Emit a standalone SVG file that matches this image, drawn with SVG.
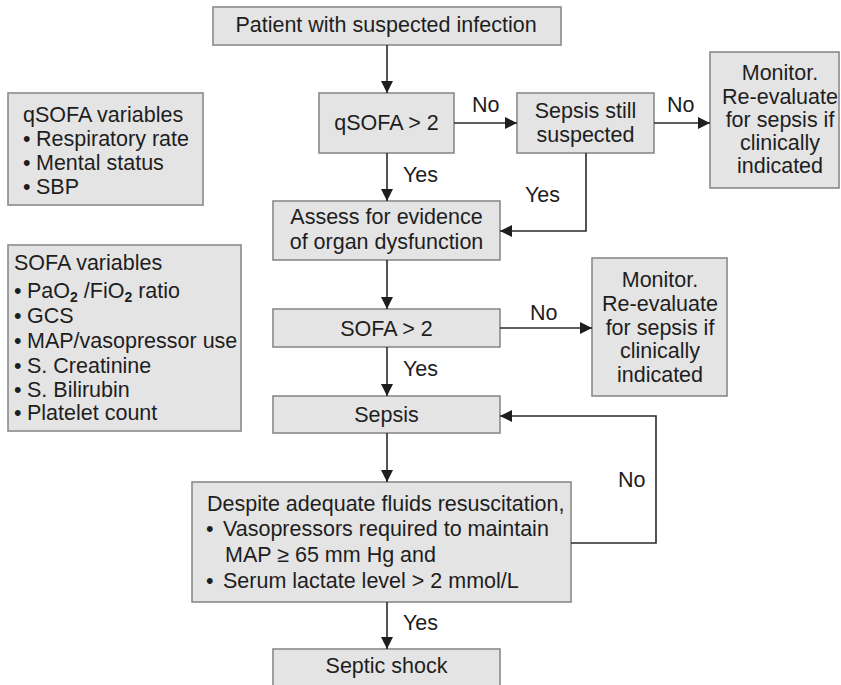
<svg xmlns="http://www.w3.org/2000/svg" width="841" height="685" viewBox="0 0 841 685">
<style>
.box{fill:#e4e4e4;stroke:#8a8a8a;stroke-width:1.6}
text{font-family:"Liberation Sans",Arial,sans-serif;font-size:21.5px;fill:#1e1e1e}
.c{text-anchor:middle}
.ln{fill:none;stroke:#2a2a2a;stroke-width:1.6}
</style>
<defs>
<marker id="ah" viewBox="0 0 12 12" refX="12" refY="6" markerWidth="12" markerHeight="12" markerUnits="userSpaceOnUse" orient="auto">
<path d="M0,0 L12,6 L0,12 Z" fill="#1e1e1e"/>
</marker>
</defs>
<rect width="841" height="685" fill="#fff"/>

<g id="start"><rect class="box" x="213" y="7" width="348" height="38"/><text class="c" x="386" y="32">Patient with suspected infection</text></g>
<g id="qsofa"><rect class="box" x="319" y="93" width="135" height="60"/><text class="c" x="386.5" y="130">qSOFA &gt; 2</text></g>
<g id="still"><rect class="box" x="517" y="93" width="137" height="60"/><text class="c" x="585.5" y="118">Sepsis still</text><text class="c" x="585.5" y="142">suspected</text></g>
<g id="monitor1"><rect class="box" x="710" y="52" width="129" height="136"/><text class="c" x="780" y="80">Monitor.</text><text class="c" x="780" y="104">Re-evaluate</text><text class="c" x="780" y="127">for sepsis if</text><text class="c" x="780" y="150">clinically</text><text class="c" x="780" y="173">indicated</text></g>
<g id="assess"><rect class="box" x="273" y="201" width="227" height="59"/><text class="c" x="386.5" y="224">Assess for evidence</text><text class="c" x="386.5" y="249">of organ dysfunction</text></g>
<g id="sofa"><rect class="box" x="273" y="309" width="227" height="38"/><text class="c" x="386.5" y="336">SOFA &gt; 2</text></g>
<g id="monitor2"><rect class="box" x="592" y="258" width="135" height="138"/><text class="c" x="660" y="287">Monitor.</text><text class="c" x="660" y="311">Re-evaluate</text><text class="c" x="660" y="335">for sepsis if</text><text class="c" x="660" y="358">clinically</text><text class="c" x="660" y="382">indicated</text></g>
<g id="sepsis"><rect class="box" x="273" y="396" width="227" height="37"/><text class="c" x="386.5" y="422">Sepsis</text></g>
<g id="criteria"><rect class="box" x="192" y="482" width="379" height="120"/>
<text x="207" y="511">Despite adequate fluids resuscitation,</text>
<text x="206" y="536">•</text><text x="223" y="536">Vasopressors required to maintain</text>
<text x="225" y="562">MAP ≥ 65 mm Hg and</text>
<text x="206" y="588">•</text><text x="223" y="588">Serum lactate level &gt; 2 mmol/L</text></g>
<g id="shock"><rect class="box" x="273" y="649" width="227" height="40"/><text class="c" x="386.5" y="673">Septic shock</text></g>
<g id="qsofa-vars"><rect class="box" x="8" y="93" width="195" height="112"/>
<text x="23" y="122">qSOFA variables</text>
<text x="23" y="146">•</text><text x="36" y="146">Respiratory rate</text>
<text x="23" y="170">•</text><text x="36" y="170">Mental status</text>
<text x="23" y="194">•</text><text x="36" y="194">SBP</text></g>
<g id="sofa-vars"><rect class="box" x="8" y="245" width="233" height="186"/>
<text x="14" y="270">SOFA variables</text>
<text x="14" y="298">•</text><text x="27" y="298">PaO<tspan font-size="14" font-weight="bold" dy="4">2</tspan><tspan dy="-4"> /FiO</tspan><tspan font-size="14" font-weight="bold" dy="4">2</tspan><tspan dy="-4"> ratio</tspan></text>
<text x="14" y="323">•</text><text x="27" y="323">GCS</text>
<text x="14" y="348">•</text><text x="27" y="348">MAP/vasopressor use</text>
<text x="14" y="373">•</text><text x="27" y="373">S. Creatinine</text>
<text x="14" y="397">•</text><text x="27" y="397">S. Bilirubin</text>
<text x="14" y="420">•</text><text x="27" y="420">Platelet count</text></g>

<g id="connectors">
<path class="ln" d="M387,45 V93" marker-end="url(#ah)"/>
<path class="ln" d="M454,123 H517" marker-end="url(#ah)"/>
<path class="ln" d="M654,123 H710" marker-end="url(#ah)"/>
<path class="ln" d="M387,153 V201" marker-end="url(#ah)"/>
<path class="ln" d="M586,153 V231 H500" marker-end="url(#ah)"/>
<path class="ln" d="M387,260 V309" marker-end="url(#ah)"/>
<path class="ln" d="M500,328 H592" marker-end="url(#ah)"/>
<path class="ln" d="M387,347 V396" marker-end="url(#ah)"/>
<path class="ln" d="M387,433 V482" marker-end="url(#ah)"/>
<path class="ln" d="M571,543 H656 V416 H500" marker-end="url(#ah)"/>
<path class="ln" d="M387,602 V649" marker-end="url(#ah)"/>
<text x="472" y="112">No</text>
<text x="667" y="112">No</text>
<text x="403" y="182">Yes</text>
<text x="525" y="202">Yes</text>
<text x="530" y="320">No</text>
<text x="403" y="376">Yes</text>
<text x="618" y="487">No</text>
<text x="403" y="630">Yes</text>
</g>
</svg>
